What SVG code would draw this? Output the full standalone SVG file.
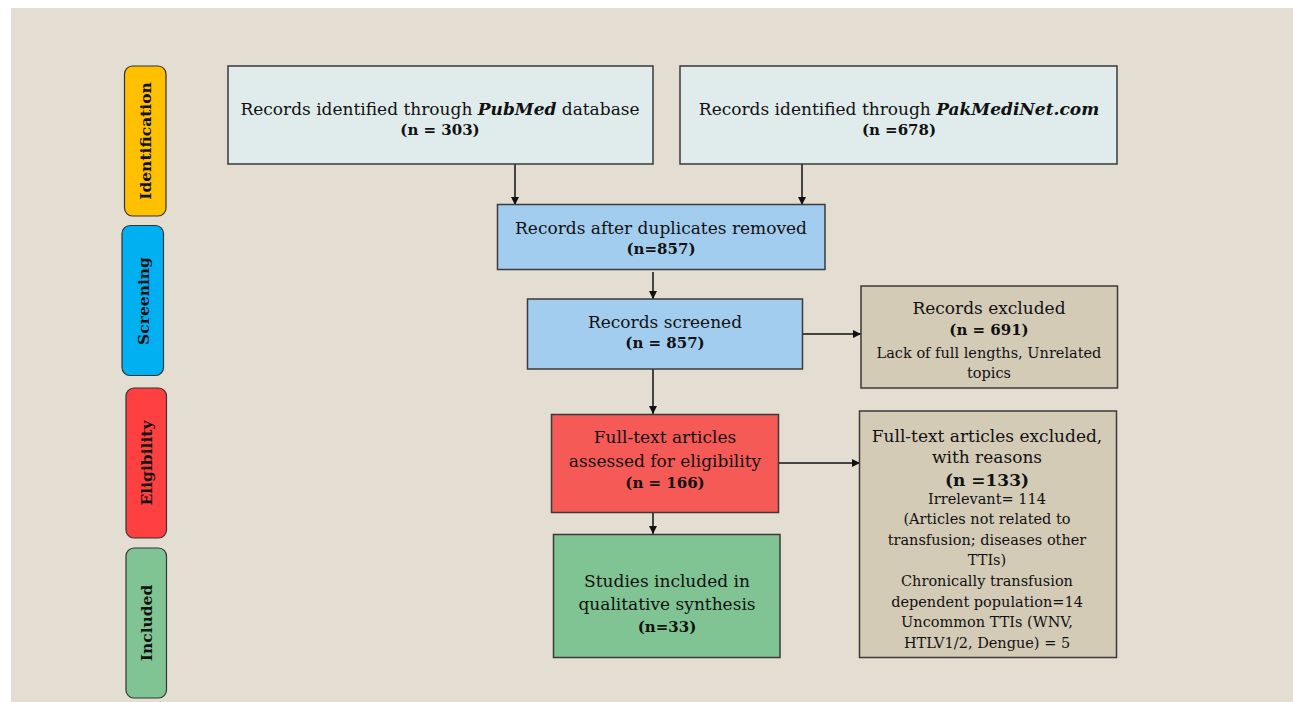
<svg xmlns="http://www.w3.org/2000/svg" width="1293" height="702" viewBox="0 0 1293 702">
<style>
.t{font-family:"DejaVu Serif","Liberation Serif",serif;font-size:17px;fill:#111;text-anchor:middle}
.s{font-size:14.5px}
.b{font-weight:bold;font-size:15px}
.box{stroke:#3a3a3a;stroke-width:1.5}
.pill{stroke:#333;stroke-width:1.2}
.lab{font-family:"DejaVu Serif","Liberation Serif",serif;font-weight:bold;font-size:15.5px;fill:#111;text-anchor:middle}
.c{stroke:#111;stroke-width:1.5;fill:none;marker-end:url(#ah)}
</style>
<defs>
<marker id="ah" viewBox="0 0 10 10" refX="10" refY="5" markerWidth="8" markerHeight="8" markerUnits="userSpaceOnUse" orient="auto">
<path d="M0,0 L10,5 L0,10 z" fill="#111"/>
</marker>
</defs>
<rect x="0" y="0" width="1293" height="702" fill="#ffffff"/>
<rect x="11" y="8" width="1282" height="694" fill="#e4ddd2"/>

<g id="stage-identification">
<rect class="pill" x="124.5" y="66" width="41.5" height="150" rx="8" fill="#ffc000"/>
<text class="lab" transform="translate(145.5,141) rotate(-90)" dy="5.5">Identification</text>
</g>
<g id="stage-screening">
<rect class="pill" x="122" y="225.5" width="41.5" height="150" rx="8" fill="#00b0f0"/>
<text class="lab" transform="translate(143,301) rotate(-90)" dy="5.5">Screening</text>
</g>
<g id="stage-eligibility">
<rect class="pill" x="126" y="388" width="40.5" height="150" rx="8" fill="#ff4040"/>
<text class="lab" transform="translate(146.5,463) rotate(-90)" dy="5.5">Eligibility</text>
</g>
<g id="stage-included">
<rect class="pill" x="126" y="548" width="40.5" height="150" rx="8" fill="#80c494"/>
<text class="lab" transform="translate(146.5,623) rotate(-90)" dy="5.5">Included</text>
</g>

<g id="connectors">
<path class="c" d="M515,164 V205"/>
<path class="c" d="M802,164 V205"/>
<path class="c" d="M653,272 V299"/>
<path class="c" d="M653,369 V414"/>
<path class="c" d="M802,334 H861"/>
<path class="c" d="M778,463 H860"/>
<path class="c" d="M653,512 V534"/>
</g>

<g id="pubmed">
<rect class="box" x="228" y="66" width="425" height="98" fill="#e0ebeb"/>
<text class="t" x="440" y="115">Records identified through <tspan font-weight="bold" font-style="italic">PubMed</tspan> database</text>
<text class="t b" x="440" y="135">(n = 303)</text>
</g>
<g id="pakmedinet">
<rect class="box" x="680" y="66" width="437" height="98" fill="#e0ebeb"/>
<text class="t" x="899" y="115">Records identified through <tspan font-weight="bold" font-style="italic">PakMediNet.com</tspan></text>
<text class="t b" x="899" y="135">(n =678)</text>
</g>
<g id="duplicates">
<rect class="box" x="497.5" y="204.5" width="327.5" height="65" fill="#a3cdee"/>
<text class="t" x="661" y="234">Records after duplicates removed</text>
<text class="t b" x="661" y="254">(n=857)</text>
</g>
<g id="screened">
<rect class="box" x="527.5" y="299" width="275" height="70" fill="#a3cdee"/>
<text class="t" x="665" y="328">Records screened</text>
<text class="t b" x="665" y="348">(n = 857)</text>
</g>
<g id="records-excluded">
<rect class="box" x="861" y="286" width="256.5" height="102" fill="#d4cbb7"/>
<text class="t" x="989" y="314">Records excluded</text>
<text class="t b" x="989" y="335">(n = 691)</text>
<text class="t s" x="989" y="358">Lack of full lengths, Unrelated</text>
<text class="t s" x="989" y="378">topics</text>
</g>
<g id="fulltext">
<rect class="box" x="551.5" y="414.5" width="227" height="98" fill="#f55a57"/>
<text class="t" x="665" y="443">Full-text articles</text>
<text class="t" x="665" y="467">assessed for eligibility</text>
<text class="t b" x="665" y="488">(n = 166)</text>
</g>
<g id="included">
<rect class="box" x="553.5" y="534.5" width="226.5" height="123" fill="#80c494"/>
<text class="t" x="667" y="587">Studies included in</text>
<text class="t" x="667" y="610">qualitative synthesis</text>
<text class="t b" x="667" y="632">(n=33)</text>
</g>
<g id="fulltext-excluded">
<rect class="box" x="859.5" y="411" width="257" height="246.5" fill="#d4cbb7"/>
<text class="t" x="987" y="442">Full-text articles excluded,</text>
<text class="t" x="987" y="463">with reasons</text>
<text class="t b" x="987" y="486" style="font-size:17px">(n =133)</text>
<text class="t s" x="987" y="504">Irrelevant= 114</text>
<text class="t s" x="987" y="524">(Articles not related to</text>
<text class="t s" x="987" y="545">transfusion; diseases other</text>
<text class="t s" x="987" y="565">TTIs)</text>
<text class="t s" x="987" y="586">Chronically transfusion</text>
<text class="t s" x="987" y="607">dependent population=14</text>
<text class="t s" x="987" y="627">Uncommon TTIs (WNV,</text>
<text class="t s" x="987" y="648">HTLV1/2, Dengue) = 5</text>
</g>
</svg>
